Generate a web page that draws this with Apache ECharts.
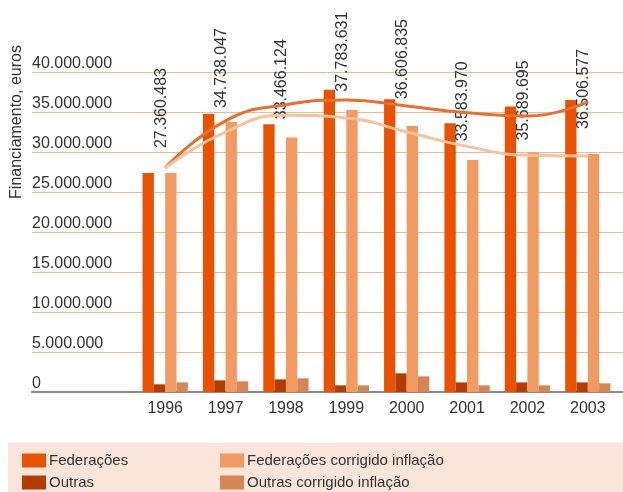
<!DOCTYPE html>
<html lang="pt">
<head>
  <meta charset="UTF-8">
  <title>Financiamento</title>
  <script src="https://cdn.jsdelivr.net/npm/echarts@6/dist/echarts.min.js"></script>
</head>
<style>
    html, body { margin: 0; padding: 0; background: #fff; }
    #main {
        width: 623px;
        height: 492px;
    }
</style>
<body>
<div id="main"></div>
<script>
  // anos
  let years = ['1996', '1997', '1998', '1999', '2000', '2001', '2002', '2003']

  // valores (euros)
  let federacoes = [27360483, 34738047, 33466124, 37783631, 36606835, 33583970, 35689695, 36506577]
  let outras = [960000, 1460000, 1580000, 830000, 2330000, 1200000, 1200000, 1200000]
  let federacoesCorr = [27360483, 33750000, 31800000, 35250000, 33250000, 29000000, 29960000, 29750000]
  let outrasCorr = [1200000, 1330000, 1710000, 830000, 1960000, 830000, 830000, 1080000]

  // curvas de tendência
  let tendFed = [28000000, 33900000, 35900000, 36500000, 35750000, 34900000, 34500000, 36300000]
  let tendCorr = [28000000, 32500000, 34600000, 34250000, 32500000, 30700000, 29600000, 29500000]

  // deslocamento vertical dos rótulos (px, acima do topo da barra)
  const labelLift = [25, 6, 5, -2, 0, -18, -34, -29]

  const font = 'Liberation Sans'
  const fmt = v => String(v).replace(/\B(?=(\d{3})+(?!\d))/g, '.')

  const legendBase = {
    orient: 'vertical',
    top: 453,
    height: 60,
    icon: 'rect',
    itemWidth: 24,
    itemHeight: 14,
    itemGap: 7,
    padding: 0,
    textStyle: { fontSize: 15, color: '#333', fontFamily: font, padding: [0, 0, 0, -2] }
  }

  const chart = echarts.init(document.getElementById('main'))
  chart.setOption({
    animation: false,
    textStyle: { fontFamily: font },
    graphic: [
      {
        type: 'rect',
        z: -10,
        shape: { x: 8, y: 443, width: 620, height: 49 },
        style: { fill: '#FAE5DA' }
      },
      {
        type: 'text',
        x: 17,
        y: 122,
        rotation: Math.PI / 2,
        style: {
          text: 'Financiamento, euros',
          font: '16px ' + font,
          fill: '#333',
          textAlign: 'center',
          textVerticalAlign: 'middle'
        }
      }
    ],
    legend: [
      Object.assign({}, legendBase, { left: 22, data: ['Federações', 'Outras'] }),
      Object.assign({}, legendBase, { left: 220, data: ['Federações corrigido inflação', 'Outras corrigido inflação'] })
    ],
    grid: [
      { left: 32, right: 0, top: 72, bottom: 100 },   // moldura: linhas de grelha e eixo
      { left: 135, right: 5, top: 72, bottom: 100 }   // barras
    ],
    xAxis: [
      {
        gridIndex: 0,
        type: 'value',
        min: 0,
        max: 1,
        axisLine: { show: true, lineStyle: { color: '#8a8a8a', width: 2 } },
        axisTick: { show: false },
        axisLabel: { show: false },
        splitLine: { show: false }
      },
      {
        gridIndex: 1,
        type: 'category',
        data: years,
        axisLine: { show: false },
        axisTick: { show: false },
        axisLabel: { color: '#333', fontSize: 16, margin: 9 }
      }
    ],
    yAxis: [
      {
        gridIndex: 0,
        type: 'value',
        min: 0,
        max: 40000000,
        interval: 5000000,
        axisLine: { show: false },
        axisTick: { show: false },
        axisLabel: {
          inside: true,
          margin: 0,
          align: 'left',
          verticalAlign: 'bottom',
          color: '#333',
          fontSize: 16,
          formatter: fmt
        },
        splitLine: { lineStyle: { color: '#F9B88C', width: 1 } }
      },
      {
        gridIndex: 1,
        type: 'value',
        min: 0,
        max: 40000000,
        show: false,
        splitLine: { show: false }
      }
    ],
    series: [
      {
        name: 'Federações',
        type: 'bar',
        xAxisIndex: 1,
        yAxisIndex: 1,
        barGap: '0%',
        barCategoryGap: '25%',
        itemStyle: { color: '#E85200' },
        data: federacoes.map((v, i) => ({
          value: v,
          label: { offset: [labelLift[i], 13] }
        })),
        label: {
          show: true,
          position: 'top',
          distance: 0,
          rotate: 90,
          align: 'left',
          verticalAlign: 'middle',
          color: '#333',
          fontSize: 16,
          formatter: p => fmt(p.value)
        }
      },
      {
        name: 'Outras',
        type: 'bar',
        xAxisIndex: 1,
        yAxisIndex: 1,
        barGap: '0%',
        barCategoryGap: '25%',
        itemStyle: { color: '#B33D00' },
        data: outras
      },
      {
        name: 'Federações corrigido inflação',
        type: 'bar',
        xAxisIndex: 1,
        yAxisIndex: 1,
        barGap: '0%',
        barCategoryGap: '25%',
        itemStyle: { color: '#F19A62' },
        data: federacoesCorr
      },
      {
        name: 'Outras corrigido inflação',
        type: 'bar',
        xAxisIndex: 1,
        yAxisIndex: 1,
        barGap: '0%',
        barCategoryGap: '25%',
        itemStyle: { color: '#D88556' },
        data: outrasCorr
      },
      {
        name: 'tendência',
        type: 'line',
        xAxisIndex: 1,
        yAxisIndex: 1,
        smooth: 0.5,
        symbol: 'none',
        silent: true,
        lineStyle: { color: '#E8702E', width: 3 },
        data: tendFed
      },
      {
        name: 'tendência corrigida',
        type: 'line',
        xAxisIndex: 1,
        yAxisIndex: 1,
        smooth: 0.5,
        symbol: 'none',
        silent: true,
        lineStyle: { color: '#F7C19D', width: 3 },
        data: tendCorr
      }
    ]
  })
</script>
</body>
</html>
